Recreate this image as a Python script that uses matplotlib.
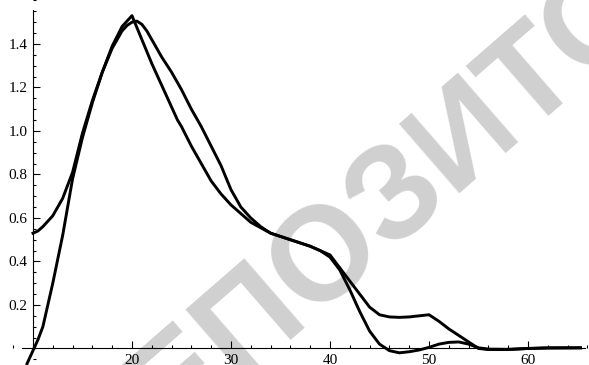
import numpy as np
import matplotlib.pyplot as plt
from matplotlib.ticker import MultipleLocator

# curva suave (modelo)
x_a = [10, 10.5, 11, 12, 13, 14, 15, 16, 17, 18, 19, 19.5, 20, 20.5, 21, 21.5, 22, 23,
       24, 25, 26, 27, 28, 29, 30, 31, 32, 33, 34, 36, 38, 39, 40, 41, 42, 43, 44, 45,
       46, 47, 48, 49, 50, 51, 52, 53, 54, 55, 56, 58, 60, 62, 65.3]
y_a = [0.53, 0.54, 0.56, 0.61, 0.69, 0.81, 0.99, 1.14, 1.27, 1.38, 1.46, 1.485, 1.50,
       1.505, 1.49, 1.46, 1.42, 1.34, 1.27, 1.19, 1.10, 1.02, 0.93, 0.84, 0.73, 0.65,
       0.60, 0.56, 0.53, 0.50, 0.47, 0.45, 0.42, 0.36, 0.27, 0.17, 0.08, 0.02, -0.01,
       -0.02, -0.015, -0.007, 0.005, 0.02, 0.028, 0.03, 0.02, 0.003, -0.003, -0.004,
       0.0, 0.002, 0.003]

# curva de datos (con quiebres)
x_b = [9.4, 10, 10.5, 11, 12, 13, 14, 15, 16, 17, 18, 19, 20, 21, 22, 23, 24, 24.6,
       25, 26, 27, 28, 29, 30, 32, 34, 36, 38, 40, 41, 42, 43, 44, 45, 46, 47, 48,
       49, 50, 51, 52, 53, 54, 55, 56, 58, 60, 62, 65.3]
y_b = [-0.07, -0.01, 0.04, 0.10, 0.30, 0.52, 0.78, 0.97, 1.13, 1.27, 1.39, 1.48, 1.53,
       1.42, 1.31, 1.21, 1.11, 1.05, 1.02, 0.93, 0.85, 0.77, 0.71, 0.66, 0.58, 0.53,
       0.50, 0.47, 0.43, 0.37, 0.31, 0.25, 0.19, 0.155, 0.145, 0.143, 0.145, 0.15,
       0.155, 0.125, 0.09, 0.06, 0.03, 0.0, -0.005, -0.005, 0.0, 0.003, 0.003]

plt.rcParams['font.family'] = ['Liberation Serif', 'DejaVu Serif']

fig = plt.figure(figsize=(5.89, 3.65), dpi=100)
ax = fig.add_axes([0, 0, 1, 1])
ax.set_zorder(1)

# marca de agua (detras de los ejes)
fig.text(0.79, 0.63, 'РЕПОЗИТОРИЙ', family='Liberation Sans', fontweight='bold',
         fontsize=96, color='#d0d0d0', rotation=41, rotation_mode='anchor',
         ha='center', va='center', zorder=0)

for xs, ys in ((x_a, y_a), (x_b, y_b)):
    ax.plot(xs, ys, color='black', lw=2.1, zorder=3, solid_joinstyle='round')

ax.set_xlim(6.67, 66.16)
ax.set_ylim(-0.076, 1.602)
ax.patch.set_alpha(0)

ax.spines['top'].set_visible(False)
ax.spines['right'].set_visible(False)
ax.spines['left'].set_position(('data', 10))
ax.spines['bottom'].set_position(('data', 0))
ax.spines['bottom'].set_bounds(8.9, 65.8)
ax.spines['left'].set_bounds(0, 1.556)
for s in ('left', 'bottom'):
    ax.spines[s].set_linewidth(0.8)

ax.xaxis.set_minor_locator(MultipleLocator(2))
ax.yaxis.set_minor_locator(MultipleLocator(0.05))
ax.set_xticks([20, 30, 40, 50, 60])
ax.set_yticks([0.2, 0.4, 0.6, 0.8, 1.0, 1.2, 1.4])
ax.set_yticklabels(['0.2', '0.4', '0.6', '0.8', '1.0', '1.2', '1.4'])
ax.tick_params(which='both', direction='in', width=0.8, labelsize=11)
ax.tick_params(which='major', length=5, pad=4)
ax.tick_params(which='minor', length=2.5)

fig.savefig('out.png', dpi=100)
